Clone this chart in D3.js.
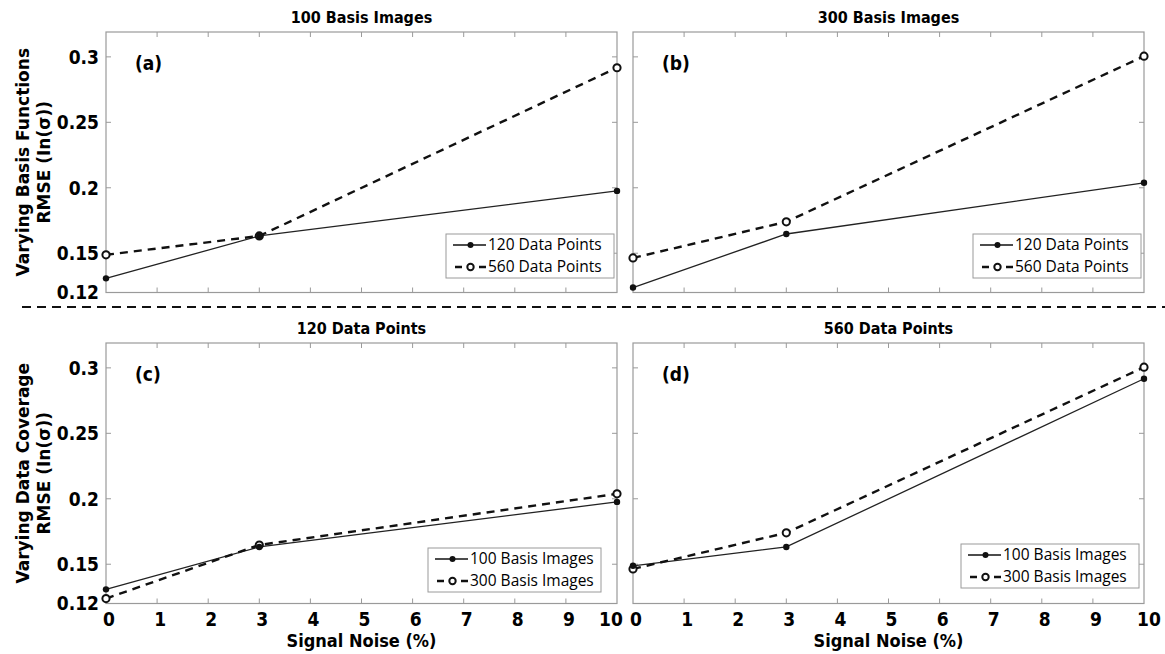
<!DOCTYPE html>
<html>
<head>
<meta charset="utf-8">
<script src="https://cdn.jsdelivr.net/npm/d3@7"></script>
<style>
  html, body { margin: 0; padding: 0; background: #fff; }
  svg { display: block; }
  .tick-label { font-family: "DejaVu Sans Condensed", "DejaVu Sans", Verdana, sans-serif; font-weight: bold; font-size: 19px; fill: #000; }
  .title { font-family: "DejaVu Sans Condensed", "DejaVu Sans", Verdana, sans-serif; font-weight: bold; font-size: 16px; fill: #000; }
  .ylab { font-family: "DejaVu Sans", Verdana, sans-serif; font-weight: bold; font-size: 17px; fill: #000; }
  .xlab { font-family: "DejaVu Sans Condensed", "DejaVu Sans", Verdana, sans-serif; font-weight: bold; font-size: 18px; fill: #000; }
  .legend text { font-family: "Open Sans", "Noto Sans", sans-serif; font-size: 15.5px; fill: #000; }
</style>
</head>
<body>
<div id="chart"></div>
<script>
// Data
const noise = [0, 3, 10];
const xTicks = [0, 1, 2, 3, 4, 5, 6, 7, 8, 9, 10];
const yTicks = [0.12, 0.15, 0.2, 0.25, 0.3];

// RMSE (ln sigma) by number of basis images and data points
const basis100Pts120 = [0.1308, 0.1632, 0.1976];
const basis100Pts560 = [0.1488, 0.1632, 0.2917];
const basis300Pts120 = [0.1238, 0.1647, 0.2038];
const basis300Pts560 = [0.1464, 0.1740, 0.3005];

const rowLabels = ["Varying Basis Functions", "Varying Data Coverage"];

const panels = [
    { row: 0, col: 0, title: "100 Basis Images", tag: "(a)",
      solid: basis100Pts120, dashed: basis100Pts560,
      names: ["120 Data Points", "560 Data Points"], legend: { x: 446, y: 234, w: 168 } },
    { row: 0, col: 1, title: "300 Basis Images", tag: "(b)",
      solid: basis300Pts120, dashed: basis300Pts560,
      names: ["120 Data Points", "560 Data Points"], legend: { x: 973, y: 234, w: 168 } },
    { row: 1, col: 0, title: "120 Data Points", tag: "(c)",
      solid: basis100Pts120, dashed: basis300Pts120,
      names: ["100 Basis Images", "300 Basis Images"], legend: { x: 428, y: 548, w: 173 } },
    { row: 1, col: 1, title: "560 Data Points", tag: "(d)",
      solid: basis100Pts560, dashed: basis300Pts560,
      names: ["100 Basis Images", "300 Basis Images"], legend: { x: 961, y: 544, w: 178 } }
];

const W = 1165, H = 654;
const colX = [106, 633];
const rowY = [32, 343];
const pw = 511, ph = 260.5;
const axisColor = "#9a9a9a";

const svg = d3.select("#chart").append("svg")
    .attr("width", W)
    .attr("height", H);

svg.append("rect").attr("width", W).attr("height", H).attr("fill", "#fff");

// Separator between the two rows
svg.append("line")
    .attr("x1", 22).attr("x2", W)
    .attr("y1", 307).attr("y2", 307)
    .attr("stroke", "#111")
    .attr("stroke-width", 2)
    .attr("stroke-dasharray", "9,6");

panels.forEach((p) => {
    const x0 = colX[p.col], y0 = rowY[p.row];
    const g = svg.append("g").attr("transform", `translate(${x0},${y0})`);

    const x = d3.scaleLinear().domain([0, 10]).range([0, pw]);
    const y = d3.scaleLinear().domain([0.12, 0.319]).range([ph, 0]);

    // Box
    g.append("rect")
        .attr("width", pw).attr("height", ph)
        .attr("fill", "none")
        .attr("stroke", axisColor)
        .attr("stroke-width", 1.2);

    // Inner ticks on all four sides
    const tickLen = 5;
    g.selectAll(".xt").data(xTicks.slice(1, -1)).enter().append("path")
        .attr("d", (d) => `M${x(d)},${ph}v${-tickLen}M${x(d)},0v${tickLen}`)
        .attr("stroke", axisColor);
    g.selectAll(".yt").data(yTicks.slice(1)).enter().append("path")
        .attr("d", (d) => `M0,${y(d)}h${tickLen}M${pw},${y(d)}h${-tickLen}`)
        .attr("stroke", axisColor);

    // Tick labels
    if (p.col === 0) {
        g.selectAll(".yl").data(yTicks).enter().append("text")
            .attr("class", "tick-label")
            .attr("x", -7)
            .attr("y", (d) => y(d))
            .attr("dy", "0.36em")
            .attr("text-anchor", "end")
            .text((d) => d3.format("")(d));
    }
    if (p.row === 1) {
        g.selectAll(".xl").data(xTicks).enter().append("text")
            .attr("class", "tick-label")
            .attr("x", (d) => x(d))
            .attr("dx", (d) => d === 10 ? (p.col === 0 ? -6 : 5) : 3)
            .attr("y", ph + 22)
            .attr("text-anchor", "middle")
            .text((d) => d);
        g.append("text")
            .attr("class", "xlab")
            .attr("x", pw / 2)
            .attr("y", ph + 43)
            .attr("text-anchor", "middle")
            .text("Signal Noise (%)");
    }

    // Title and panel tag
    g.append("text")
        .attr("class", "title")
        .attr("x", pw / 2)
        .attr("y", -9)
        .attr("text-anchor", "middle")
        .text(p.title);
    g.append("text")
        .attr("class", "tick-label")
        .attr("x", 29)
        .attr("y", 38)
        .text(p.tag);

    // Lines
    const line = d3.line().x((d, i) => x(noise[i])).y((d) => y(d));
    g.append("path").datum(p.solid)
        .attr("d", line)
        .attr("fill", "none")
        .attr("stroke", "#222")
        .attr("stroke-width", 1.3);
    g.append("path").datum(p.dashed)
        .attr("d", line)
        .attr("fill", "none")
        .attr("stroke", "#111")
        .attr("stroke-width", 2.4)
        .attr("stroke-dasharray", "8,6");

    g.selectAll(".ds").data(p.dashed).enter().append("circle")
        .attr("cx", (d, i) => x(noise[i]))
        .attr("cy", (d) => y(d))
        .attr("r", 3.6)
        .attr("fill", "#fff")
        .attr("stroke", "#111")
        .attr("stroke-width", 2);
    g.selectAll(".ss").data(p.solid).enter().append("circle")
        .attr("cx", (d, i) => x(noise[i]))
        .attr("cy", (d) => y(d))
        .attr("r", 3.2)
        .attr("fill", "#111");

    // Legend
    const lg = svg.append("g").attr("class", "legend")
        .attr("transform", `translate(${p.legend.x},${p.legend.y})`);
    lg.append("rect")
        .attr("width", p.legend.w).attr("height", 44)
        .attr("fill", "#fff")
        .attr("stroke", axisColor);
    [0, 1].forEach((k) => {
        const yy = 11 + k * 22;
        lg.append("line")
            .attr("x1", k === 0 ? 7 : 9).attr("x2", 40)
            .attr("y1", yy).attr("y2", yy)
            .attr("stroke", "#111")
            .attr("stroke-width", k === 0 ? 1.5 : 2.4)
            .attr("stroke-dasharray", k === 0 ? null : "7,17,7");
        lg.append("circle")
            .attr("cx", 24.5).attr("cy", yy)
            .attr("r", k === 0 ? 3 : 3.2)
            .attr("fill", k === 0 ? "#111" : "#fff")
            .attr("stroke", "#111")
            .attr("stroke-width", k === 0 ? 0 : 2);
        lg.append("text")
            .attr("x", 42).attr("y", yy)
            .attr("dy", "0.35em")
            .text(p.names[k]);
    });
});

// Row labels (rotated, two lines)
rowLabels.forEach((lab, r) => {
    const cy = rowY[r] + ph / 2;
    const t = svg.append("text")
        .attr("class", "ylab")
        .attr("transform", `translate(30,${cy}) rotate(-90)`)
        .attr("text-anchor", "middle");
    t.append("tspan").attr("x", 0).attr("y", -1).text(lab);
    t.append("tspan").attr("x", 0).attr("y", 20).text("RMSE (In(σ))");
});
</script>
</body>
</html>
